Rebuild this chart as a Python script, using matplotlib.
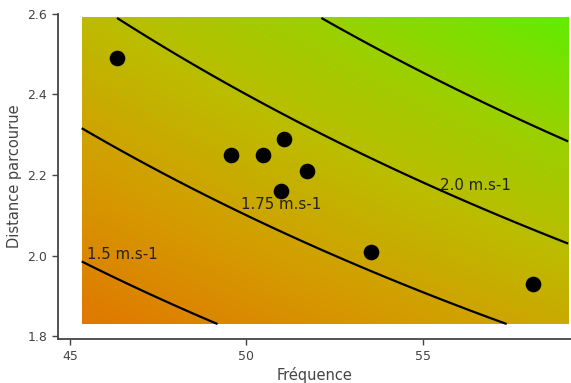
import numpy as np
import matplotlib.pyplot as plt
from matplotlib.colors import LinearSegmentedColormap

# fréquence de foulée et distance parcourue par foulée
frequence = [46.33, 49.55, 50.46, 51.06, 51.71, 50.99, 53.52, 58.12]
distance = [2.49, 2.25, 2.25, 2.29, 2.21, 2.16, 2.01, 1.93]

# niveaux de vitesse (m.s-1) et étiquettes
niveaux = [1.5, 1.75, 2.0, 2.25]
etiquettes = ["1.5 m.s-1", "1.75 m.s-1", "2.0 m.s-1"]
pos_etiquettes = [(45.48, 2.003), (49.86, 2.127), (55.48, 2.173)]

# grille autour des données
f = np.linspace(min(frequence) - 1, max(frequence) + 1, 300)
d = np.linspace(min(distance) - 0.1, max(distance) + 0.1, 300)
F, D = np.meshgrid(f, d)
V = F * D / 60

cmap = LinearSegmentedColormap.from_list(
    "vitesse", ["#e07800", "#d49c00", "#bcbc00", "#98d200", "#62ec00"])

fig = plt.figure(figsize=(5.71, 3.83), dpi=100)
ax = fig.add_axes([0.101, 0.114, 0.899, 0.8496])

ax.imshow(V, extent=[f[0], f[-1], d[0], d[-1]], origin="lower",
          aspect="auto", cmap=cmap, interpolation="bilinear", zorder=0)
ax.contour(F, D, V, levels=niveaux, colors="black", linewidths=1.6, zorder=1)

ax.scatter(frequence, distance, s=105, c="black", zorder=3)

for txt, (x, y) in zip(etiquettes, pos_etiquettes):
    ax.text(x, y, txt, fontsize=10.8, color="#222222", va="center", ha="left", zorder=4)

ax.set_xlim(44.65, 59.2)
ax.set_ylim(1.792, 2.6)
ax.set_xticks([45, 50, 55])
ax.set_yticks([1.8, 2.0, 2.2, 2.4, 2.6])
ax.set_yticklabels(["1.8", "2.0", "2.2", "2.4", "2.6"])

for s in ["top", "right"]:
    ax.spines[s].set_visible(False)
for s in ["left", "bottom"]:
    ax.spines[s].set_color("#444444")
    ax.spines[s].set_linewidth(1.3)
ax.tick_params(colors="#444444", labelsize=9, length=4, width=1)

ax.set_xlabel("Fréquence", fontsize=10.5, color="#444444", labelpad=3)
ax.set_ylabel("Distance parcourue", fontsize=10.5, color="#444444", labelpad=4)

fig.savefig("out.png", dpi=100)
